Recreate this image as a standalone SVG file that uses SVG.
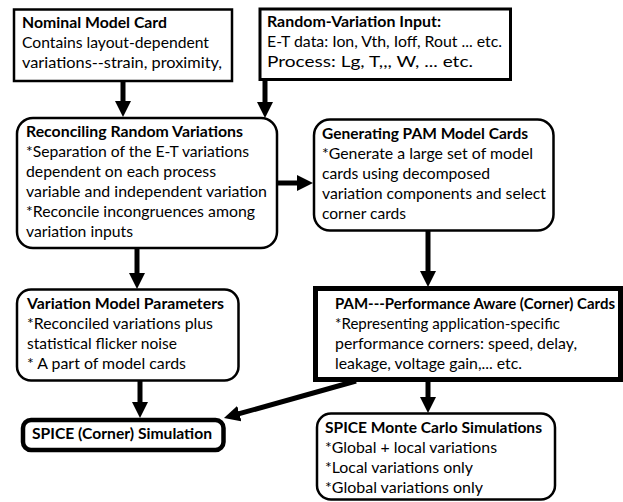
<svg xmlns="http://www.w3.org/2000/svg" width="623" height="502" viewBox="0 0 623 502">
<style>
  .box { fill: #ffffff; stroke: #000000; }
  text { font-family: Lato, "Liberation Sans", sans-serif; font-size: 15px; fill: #000000; }
  .b { font-weight: 700; }
  .c { stroke: #000000; stroke-width: 5; fill: none; marker-end: url(#ah); }
</style>
<defs>
  <marker id="ah" viewBox="0 0 16 16" markerWidth="16" markerHeight="16" refX="1" refY="8" orient="auto" markerUnits="userSpaceOnUse">
    <path d="M0,0 L16,8 L0,16 z" fill="#000000"/>
  </marker>
</defs>
<rect width="623" height="502" fill="#ffffff"/>

<g id="connectors">
  <line class="c" x1="123" y1="81" x2="123" y2="102"/>
  <line class="c" x1="265" y1="79" x2="265" y2="103"/>
  <line class="c" x1="277" y1="183" x2="298" y2="183"/>
  <line class="c" x1="137" y1="248" x2="137" y2="274"/>
  <line class="c" x1="428" y1="231" x2="428" y2="272"/>
  <line class="c" x1="140" y1="381" x2="140" y2="403"/>
  <line class="c" x1="356" y1="381" x2="238.4" y2="413.9"/>
  <line class="c" x1="428" y1="381" x2="428" y2="398"/>
</g>

<g id="nominal">
  <rect class="box" x="14" y="9.5" width="218" height="71.5" stroke-width="2.5"/>
  <text class="b" x="22" y="28" textLength="145" lengthAdjust="spacingAndGlyphs">Nominal Model Card</text>
  <text x="22" y="48" textLength="187" lengthAdjust="spacingAndGlyphs">Contains layout-dependent</text>
  <text x="22" y="68" textLength="200" lengthAdjust="spacingAndGlyphs">variations--strain, proximity,</text>
</g>

<g id="random-input">
  <rect class="box" x="260" y="9" width="250.5" height="70.5" stroke-width="3"/>
  <text class="b" x="267" y="27" textLength="174" lengthAdjust="spacingAndGlyphs">Random-Variation Input:</text>
  <text x="267" y="47" textLength="235" lengthAdjust="spacingAndGlyphs">E-T data: Ion, Vth, Ioff, Rout ... etc.</text>
  <text x="267" y="67" textLength="206" lengthAdjust="spacingAndGlyphs">Process: Lg, T,,, W, ... etc.</text>
</g>

<g id="reconciling">
  <rect class="box" x="17" y="118" width="260" height="130" rx="16" stroke-width="2.5"/>
  <text class="b" x="26" y="137" textLength="217" lengthAdjust="spacingAndGlyphs">Reconciling Random Variations</text>
  <text x="26" y="157" textLength="223" lengthAdjust="spacingAndGlyphs">*Separation of the E-T variations</text>
  <text x="26" y="177" textLength="190" lengthAdjust="spacingAndGlyphs">dependent on each process</text>
  <text x="26" y="197" textLength="241" lengthAdjust="spacingAndGlyphs">variable and independent variation</text>
  <text x="26" y="217" textLength="229" lengthAdjust="spacingAndGlyphs">*Reconcile incongruences among</text>
  <text x="26" y="237" textLength="107" lengthAdjust="spacingAndGlyphs">variation inputs</text>
</g>

<g id="generating">
  <rect class="box" x="314" y="119.5" width="239.5" height="111" rx="16" stroke-width="2.5"/>
  <text class="b" x="322" y="139" textLength="206" lengthAdjust="spacingAndGlyphs">Generating PAM Model Cards</text>
  <text x="322" y="159" textLength="211" lengthAdjust="spacingAndGlyphs">*Generate a large set of model</text>
  <text x="322" y="179" textLength="168" lengthAdjust="spacingAndGlyphs">cards using decomposed</text>
  <text x="322" y="199" textLength="224" lengthAdjust="spacingAndGlyphs">variation components and select</text>
  <text x="322" y="219" textLength="84" lengthAdjust="spacingAndGlyphs">corner cards</text>
</g>

<g id="variation-params">
  <rect class="box" x="17" y="289.5" width="221.5" height="91" rx="14" stroke-width="2.5"/>
  <text class="b" x="27" y="309" textLength="197" lengthAdjust="spacingAndGlyphs">Variation Model Parameters</text>
  <text x="27" y="329" textLength="186" lengthAdjust="spacingAndGlyphs">*Reconciled variations plus</text>
  <text x="27" y="349" textLength="150" lengthAdjust="spacingAndGlyphs">statistical flicker noise</text>
  <text x="27" y="369" textLength="159" lengthAdjust="spacingAndGlyphs">* A part of model cards</text>
</g>

<g id="pam">
  <rect class="box" x="315.5" y="288.5" width="305" height="91" stroke-width="5"/>
  <text class="b" x="335" y="309" textLength="280" lengthAdjust="spacingAndGlyphs">PAM---Performance Aware (Corner) Cards</text>
  <text x="335" y="329" textLength="225" lengthAdjust="spacingAndGlyphs">*Representing application-specific</text>
  <text x="335" y="349" textLength="242" lengthAdjust="spacingAndGlyphs">performance corners: speed, delay,</text>
  <text x="335" y="369" textLength="187" lengthAdjust="spacingAndGlyphs">leakage, voltage gain,... etc.</text>
</g>

<g id="spice-corner">
  <rect class="box" x="23" y="420" width="200.5" height="30" rx="8" stroke-width="4.5"/>
  <text class="b" x="32" y="439" textLength="180" lengthAdjust="spacingAndGlyphs">SPICE (Corner) Simulation</text>
</g>

<g id="spice-monte-carlo">
  <rect class="box" x="317" y="413.5" width="238" height="86" rx="14" stroke-width="2.5"/>
  <text class="b" x="325" y="433" textLength="217" lengthAdjust="spacingAndGlyphs">SPICE Monte Carlo Simulations</text>
  <text x="325" y="453" textLength="172" lengthAdjust="spacingAndGlyphs">*Global + local variations</text>
  <text x="325" y="473" textLength="148" lengthAdjust="spacingAndGlyphs">*Local variations only</text>
  <text x="325" y="493" textLength="158" lengthAdjust="spacingAndGlyphs">*Global variations only</text>
</g>
</svg>
